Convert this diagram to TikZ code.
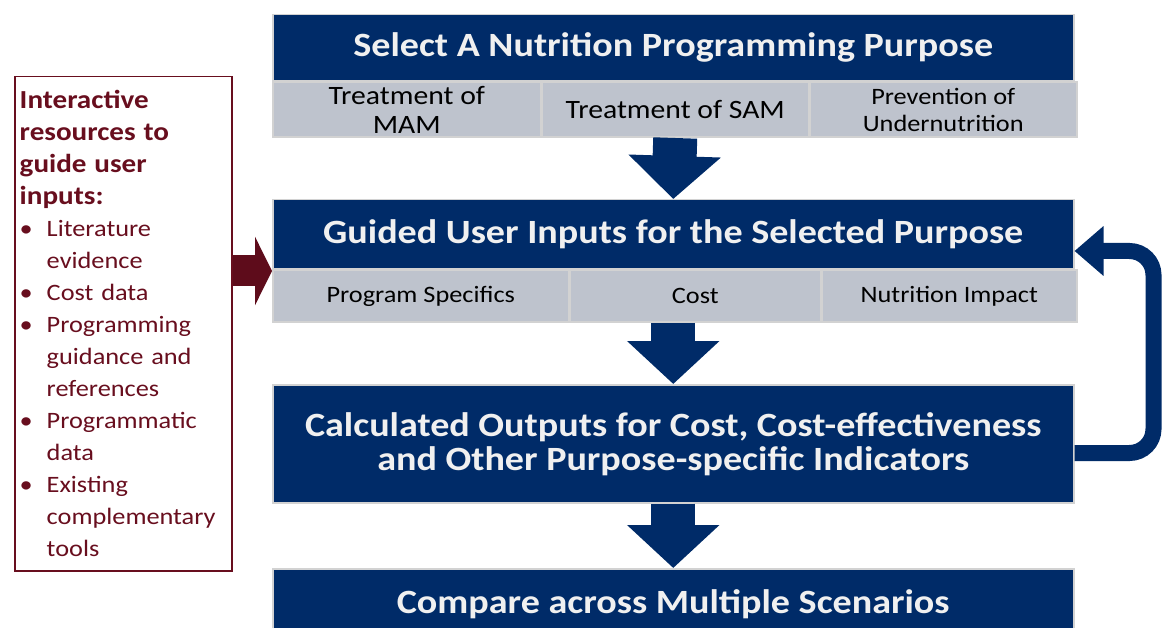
\documentclass[tikz,border=0pt]{standalone}
\usepackage{fontspec}
\setmainfont{Carlito}[FakeStretch=1.12]
\usetikzlibrary{arrows.meta,positioning,calc}

\definecolor{navy}{RGB}{0,43,104}
\definecolor{cellgray}{RGB}{190,195,205}
\definecolor{maroon}{RGB}{104,14,30}
\definecolor{framegray}{RGB}{210,210,210}

\newcommand{\bul}{\makebox[27pt][l]{\textbullet}}
\newcommand{\ind}{\hspace*{27pt}}

\begin{document}
\begin{tikzpicture}[x=1pt,y=-1pt,
  head/.style={fill=navy, draw=framegray, line width=1.5pt, minimum width=801pt,
    text=white!94!black, font=\fontsize{34}{34}\selectfont\bfseries, inner sep=0pt, align=center},
  cell/.style={fill=cellgray, draw=framegray, line width=1.5pt, inner sep=0pt,
    font=\fontsize{23.5}{27}\selectfont, align=center},
  flow/.style={navy, line width=44pt, -{Triangle[width=90pt,length=43pt]}},
]
\useasboundingbox (0,0) rectangle (1162,628);
\clip (0,0) rectangle (1162,628);

% Step 1
\node[head, minimum height=66pt, anchor=north west] (sel) at (272,14) {Select A Nutrition Programming Purpose};
\node[cell, minimum width=268pt, minimum height=55pt, anchor=north west, font=\fontsize{26.5}{29}\selectfont] (mam) at (sel.south west) {Treatment of\\MAM};
\node[cell, minimum width=266pt, minimum height=55pt, right=0pt of mam, font=\fontsize{26.5}{29}\selectfont] (sam) {Treatment of SAM};
\node[cell, minimum width=267pt, minimum height=55pt, right=0pt of sam] (prev) {Prevention of\\Undernutrition};

% Step 2
\node[head, minimum height=69pt, anchor=north west] (gui) at (272,199) {Guided User Inputs for the Selected Purpose};
\node[cell, minimum width=296pt, minimum height=52pt, anchor=north west] (spec) at (gui.south west) {Program Specifics};
\node[cell, minimum width=250pt, minimum height=52pt, right=0pt of spec] (cost) {Cost};
\node[cell, minimum width=255pt, minimum height=52pt, right=0pt of cost] (impact) {Nutrition Impact};

% Step 3
\node[head, minimum height=118pt, anchor=north west] (calc) at (272,384) {Calculated Outputs for Cost, Cost-effectiveness\\and Other Purpose-specific Indicators};

% Step 4
\node[head, minimum height=80pt, anchor=north west] (cmp) at (272,568) {\raisebox{14pt}{Compare across Multiple Scenarios}};

% Resources
\node[draw=maroon, line width=1.5pt, text=maroon, anchor=north west, minimum height=494pt,
  text width=207pt, inner sep=5pt, align=left, font=\fontsize{23.5}{32}\selectfont] (res) at (14,76)
  {{\fontsize{26}{32}\selectfont\bfseries Interactive\\resources to\\guide user\\inputs:}\\
   \bul Literature\\ \ind evidence\\
   \bul Cost data\\
   \bul Programming\\ \ind guidance and\\ \ind references\\
   \bul Programmatic\\ \ind data\\
   \bul Existing\\ \ind complementary\\ \ind tools};

% Arrows
\draw[flow] (sam.south) -- (gui.north);
\draw[flow] (gui.south |- cost.south) -- (calc.north);
\draw[flow] (calc.south) -- (cmp.north);

\coordinate (redy) at (0,271);
\draw[maroon!90!black, line width=31pt, -{Triangle[width=68pt,length=17pt]}] (res.east |- redy) -- (gui.west |- redy);

% Feedback loop
\coordinate (loopout) at (0,453);
\coordinate (loopin) at (0,251);
\draw[navy, line width=16pt, rounded corners=24pt, -{Triangle[width=48pt,length=29pt]}]
  (calc.east |- loopout) -- ++(79,0) |- (gui.east |- loopin);
\end{tikzpicture}
\end{document}
